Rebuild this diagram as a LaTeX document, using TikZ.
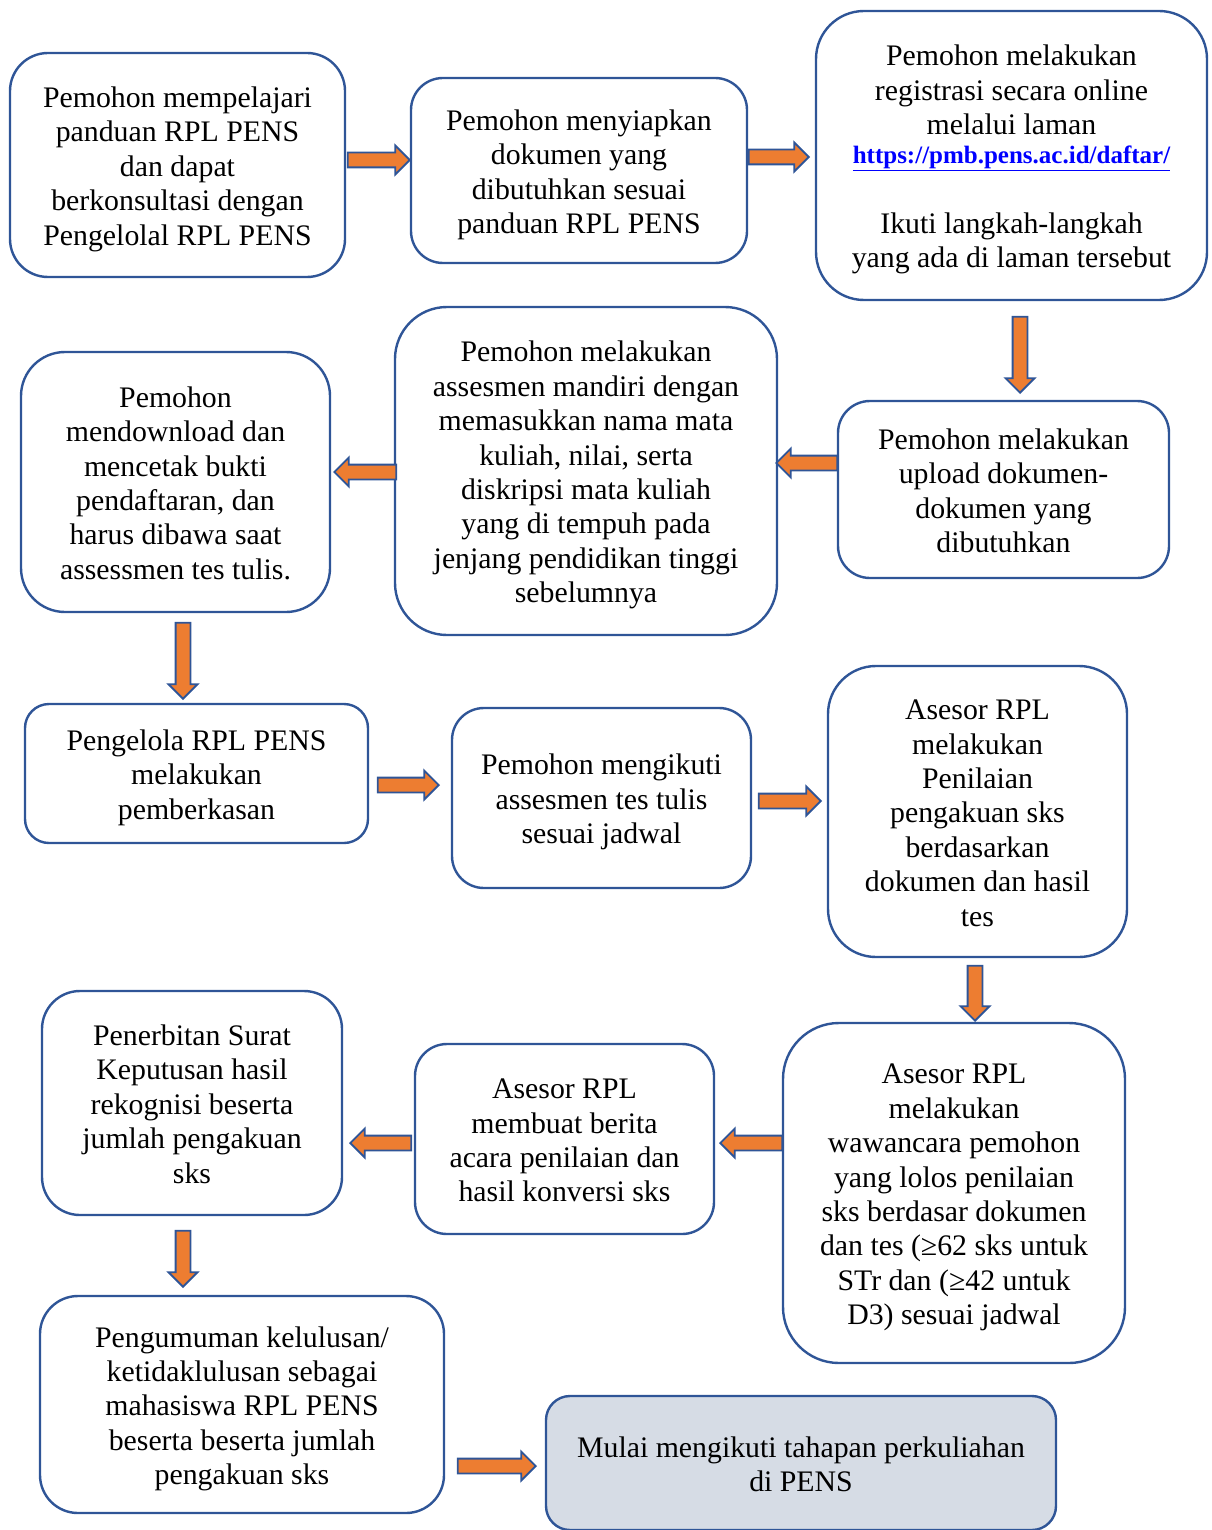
\documentclass[tikz,border=0pt]{standalone}
\usepackage{fontspec}
\setmainfont{Liberation Serif}
\usetikzlibrary{shapes.arrows}
\definecolor{bordercol}{HTML}{2F5597}
\definecolor{arrowfill}{HTML}{ED7D31}
\definecolor{linkblue}{HTML}{0000FF}
\definecolor{endfill}{HTML}{D6DCE5}
\tikzset{
  box/.style={draw=bordercol, line width=2.4pt, inner sep=0pt,
    font=\fontsize{29.8}{34.4}\selectfont, fill=white},
  blockarrow/.style={shape=single arrow, fill=arrowfill, draw=bordercol, line width=1.8pt,
    inner xsep=0pt, inner ysep=6.5pt, minimum width=0pt, single arrow head extend=7pt,
    single arrow tip angle=90, anchor=tip},
  downarrow/.style={blockarrow, inner xsep=6.5pt, inner ysep=0pt, shape border rotate=270},
  leftarrow/.style={blockarrow, shape border rotate=180},
}
\newcommand{\boxtext}[1]{\raisebox{-4.5pt}[\height][\depth]{\begin{tabular}{@{}c@{}}#1\end{tabular}}}
\newcommand{\bx}[7]{% name, x1, y1, x2, y2, radius, text
  \node[box, rounded corners=#6, minimum width={(#4-#2)*1pt}, minimum height={(#5-#3)*1pt}] (#1) at ({(#2+#4)/2},{(#3+#5)/2}) {\boxtext{#7}}}
\begin{document}
\begin{tikzpicture}[x=1pt,y=-1pt]
\useasboundingbox (0,0) rectangle (1211,1530);

\bx{b1}{10}{53}{345}{277}{38}{Pemohon mempelajari\\panduan RPL PENS\\dan dapat\\berkonsultasi dengan\\Pengelolal RPL PENS};
\bx{b2}{411}{78}{747}{263}{32}{Pemohon menyiapkan\\dokumen yang\\dibutuhkan sesuai\\panduan RPL PENS};
\bx{b3}{816}{11}{1207}{300}{48}{Pemohon melakukan\\registrasi secara online\\melalui laman\\[-6pt]{\fontsize{25}{30}\selectfont\bfseries\textcolor{linkblue}{\underline{https://pmb.pens.ac.id/daftar/}}}\\[36pt]Ikuti langkah-langkah\\yang ada di laman tersebut};
\bx{b4}{838}{401}{1169}{578}{32}{Pemohon melakukan\\upload dokumen-\\dokumen yang\\dibutuhkan};
\bx{b5}{395}{307}{777}{635}{52}{Pemohon melakukan\\assesmen mandiri dengan\\memasukkan nama mata\\kuliah, nilai, serta\\diskripsi mata kuliah\\yang di tempuh pada\\jenjang pendidikan tinggi\\sebelumnya};
\bx{b6}{21}{352}{330}{612}{44}{Pemohon\\mendownload dan\\mencetak bukti\\pendaftaran, dan\\harus dibawa saat\\assessmen tes tulis.};
\bx{b7}{25}{704}{368}{843}{24}{Pengelola RPL PENS\\melakukan\\pemberkasan};
\bx{b8}{452}{708}{751}{888}{32}{Pemohon mengikuti\\assesmen tes tulis\\sesuai jadwal};
\bx{b9}{828}{666}{1127}{957}{48}{Asesor RPL\\melakukan\\Penilaian\\pengakuan sks\\berdasarkan\\dokumen dan hasil\\tes};
\bx{b10}{783}{1023}{1125}{1363}{56}{Asesor RPL\\melakukan\\wawancara pemohon\\yang lolos penilaian\\sks berdasar dokumen\\dan tes (≥62 sks untuk\\STr dan (≥42 untuk\\D3) sesuai jadwal};
\bx{b11}{415}{1044}{714}{1234}{32}{Asesor RPL\\membuat berita\\acara penilaian dan\\hasil konversi sks};
\bx{b12}{42}{991}{342}{1215}{38}{Penerbitan Surat\\Keputusan hasil\\rekognisi beserta\\jumlah pengakuan\\sks};
\bx{b13}{40}{1296}{444}{1513}{38}{Pengumuman kelulusan/\\ketidaklulusan sebagai\\mahasiswa RPL PENS\\beserta beserta jumlah\\pengakuan sks};
\node[box, fill=endfill, rounded corners=24, minimum width=510pt, minimum height=134pt] (b14) at (801,1463) {\boxtext{Mulai mengikuti tahapan perkuliahan\\di PENS}};

% block arrows between boxes (placed by their tips)
\node[blockarrow, minimum height=62pt] (a1) at (411,160) {};
\node[blockarrow, minimum height=60pt] (a2) at (810,157) {};
\node[downarrow, minimum height=76pt] (a3) at (1020,394) {};
\node[leftarrow, minimum height=61pt] (a4) at (775,463) {};
\node[leftarrow, minimum height=62pt] (a5) at (333,472) {};
\node[downarrow, minimum height=76pt] (a6) at (183,700) {};
\node[blockarrow, minimum height=61pt] (a7) at (440,785) {};
\node[blockarrow, minimum height=62pt] (a8) at (822,801) {};
\node[downarrow, minimum height=55pt] (a9) at (975,1022) {};
\node[leftarrow, minimum height=62pt] (a10) at (719,1143) {};
\node[leftarrow, minimum height=61pt] (a11) at (349,1143) {};
\node[downarrow, minimum height=56pt] (a12) at (183,1288) {};
\node[blockarrow, minimum height=78pt] (a13) at (537,1466) {};
\end{tikzpicture}
\end{document}
